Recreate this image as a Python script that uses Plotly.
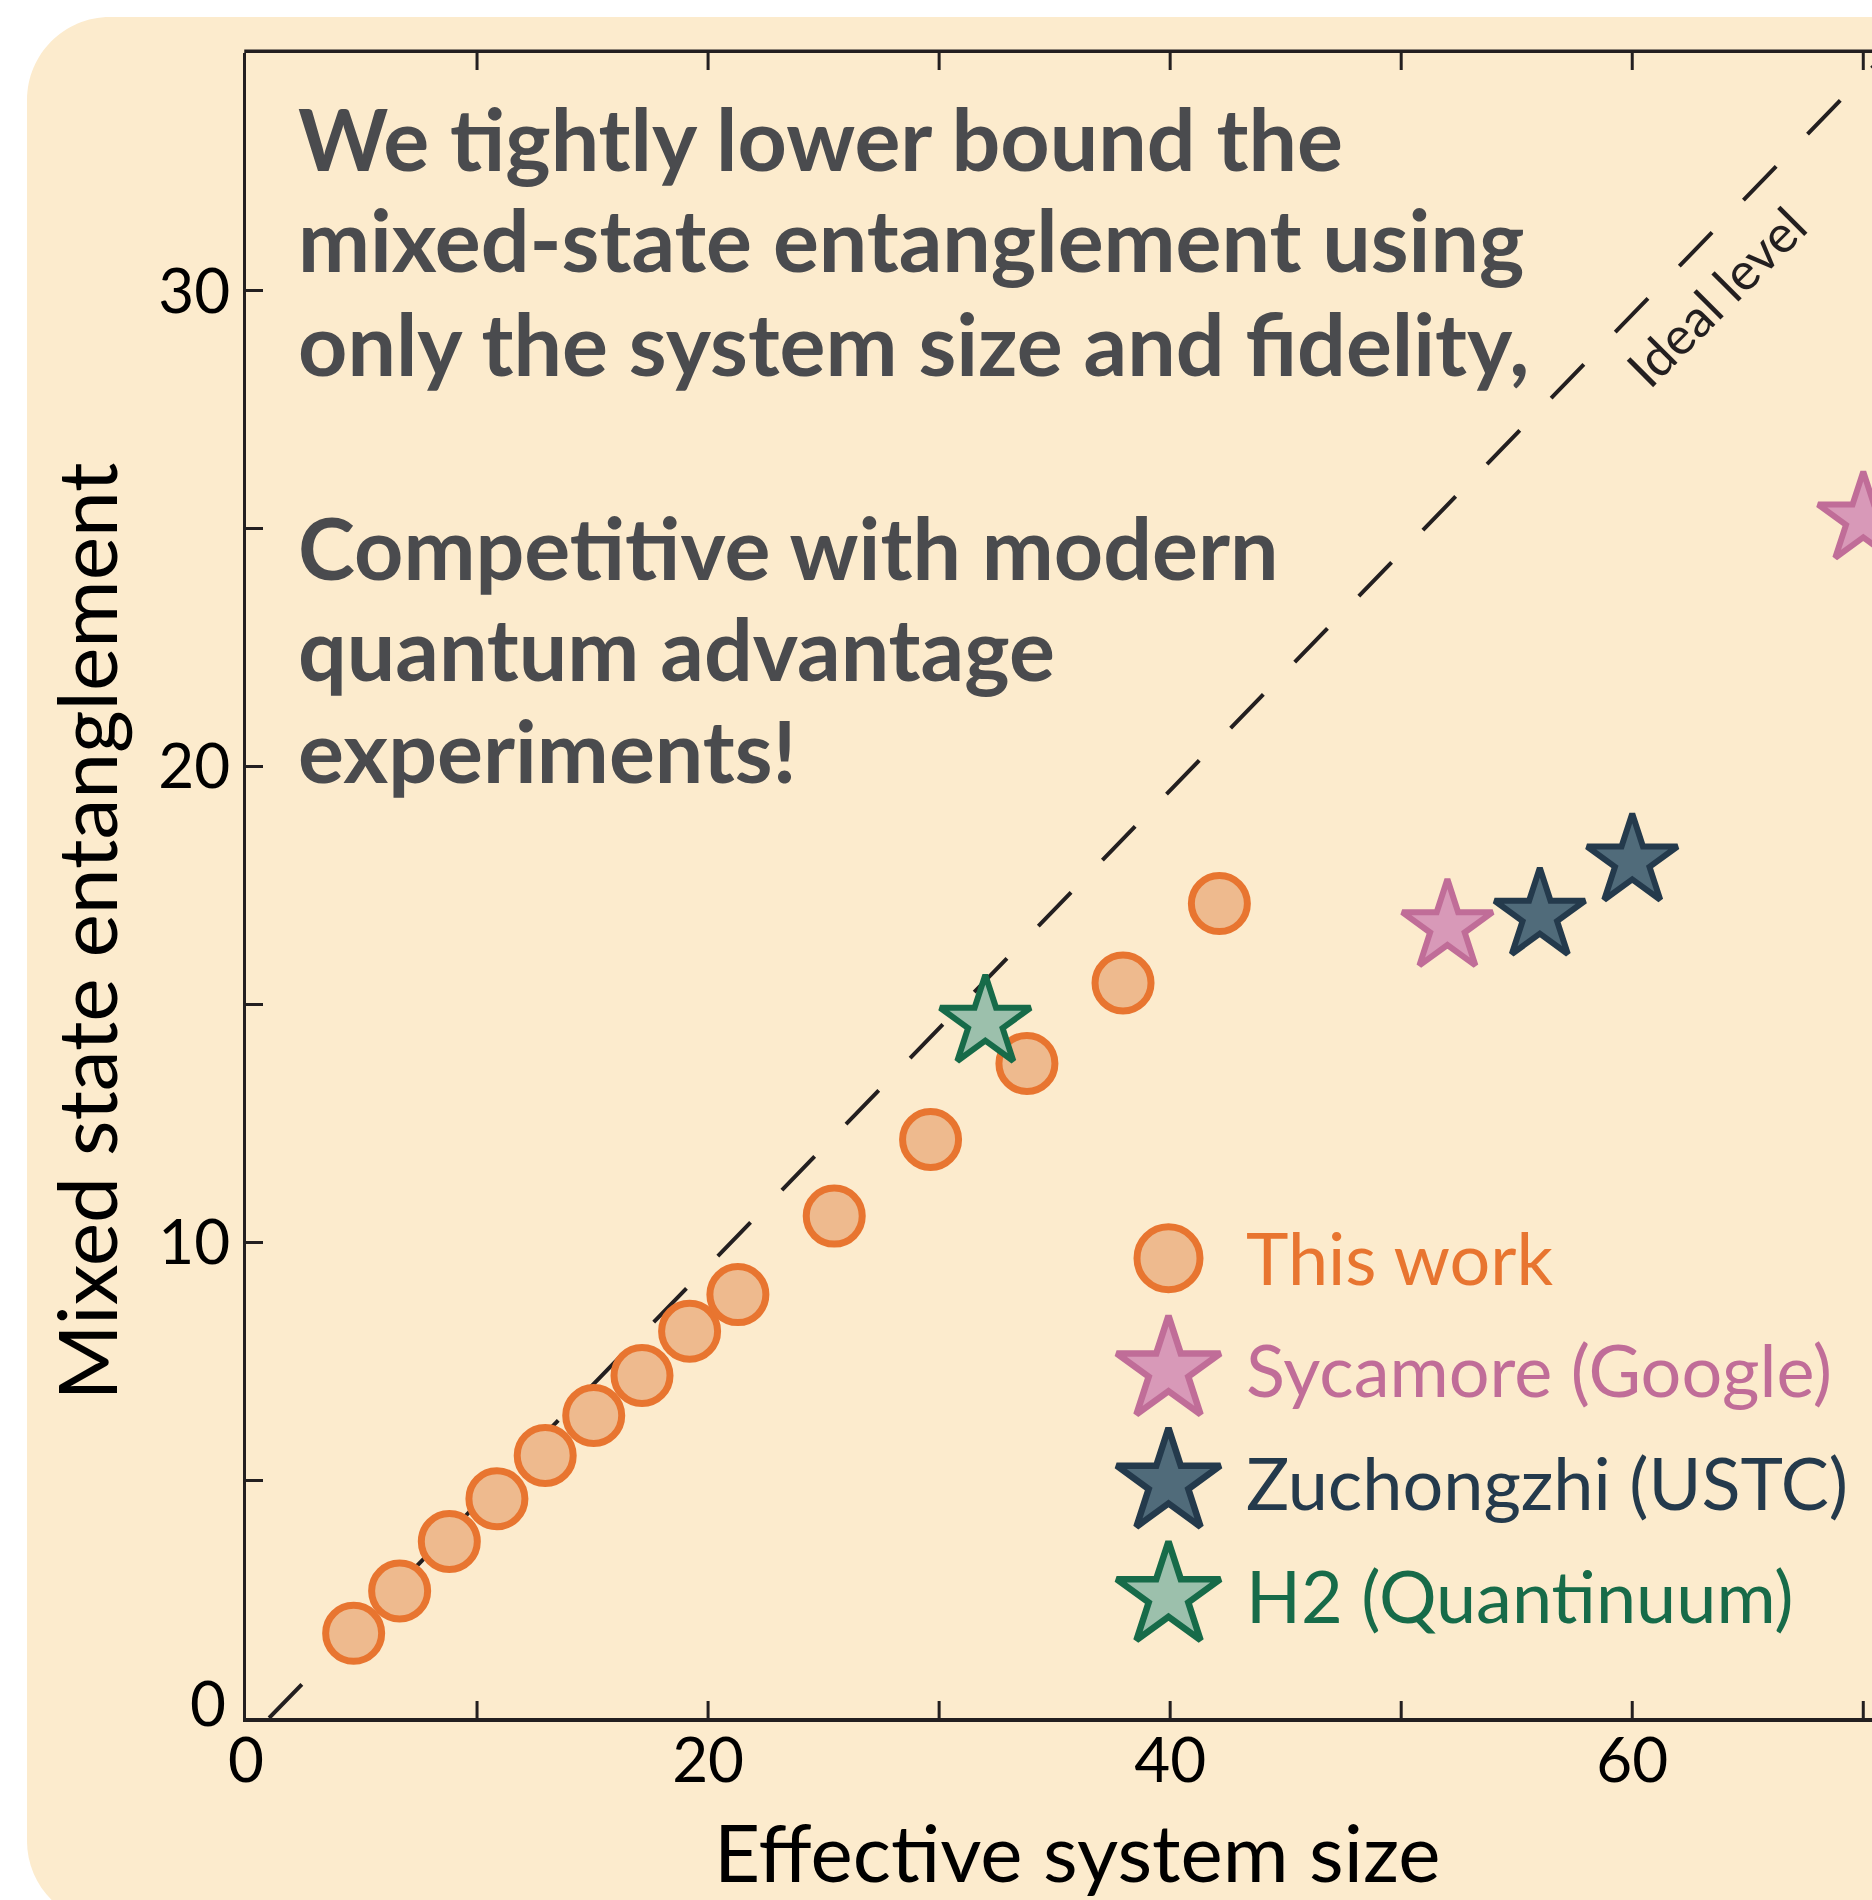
import plotly.graph_objects as go

# ---------------- data ----------------
this_work_x = [4.66, 6.65, 8.80, 10.86, 12.95, 15.05, 17.14, 19.20, 21.29, 25.46, 29.63, 33.80, 37.96, 42.13]
this_work_y = [1.78, 2.67, 3.71, 4.61, 5.52, 6.36, 7.20, 8.13, 8.90, 10.55, 12.16, 13.76, 15.45, 17.12]
sycamore_x = [52.0, 70.0]
sycamore_y = [16.63, 25.2]
zuchongzhi_x = [56.0, 60.0]
zuchongzhi_y = [16.87, 18.01]
h2_x = [32.0]
h2_y = [14.62]
ideal_x = [1.0, 72.0]
ideal_y = [0.0, 35.5]

x_tickvals = [0, 10, 20, 30, 40, 50, 60, 70]
x_ticktext = ["0", "", "20", "", "40", "", "60", ""]
y_tickvals = [0, 5, 10, 15, 20, 25, 30]
y_ticktext = ["", "", "10", "", "20", "", "30"]
y_zero_label = "0"

series_names = ["This work", "Sycamore (Google)", "Zuchongzhi (USTC)", "H2 (Quantinuum)"]

message_lines = [
    "We tightly lower bound the",
    "mixed-state entanglement using",
    "only the system size and fidelity,",
    "Competitive with modern",
    "quantum advantage",
    "experiments!",
]

# ---------------- layout geometry ----------------
W, H = 1900, 1900
L, R, T, B = 246, 0, 53, 182
PW, PH = W - L - R, H - T - B
PX_PER_X = 23.104
XMAX = PW / PX_PER_X
YMAX = 35.0

def px_x(p):
    return (p - L) / PW

def px_y(p):
    return (H - B - p) / PH

def dx(p):
    return (p - L) / PW * XMAX

def dy(p):
    return (H - B - p) / PH * YMAX

FONT = "Lato"
BG = "#FCEBCD"
AX = "#231F20"
TICKLEN = 17

styles = [
    dict(symbol="circle", fill="#EEBA8E", line="#E87530"),
    dict(symbol="star", fill="#D899B8", line="#C06D98"),
    dict(symbol="star", fill="#506B7A", line="#243A4C"),
    dict(symbol="star", fill="#9CC0AC", line="#176B49"),
]
text_colors = ["#E87530", "#C06D98", "#243A4C", "#176B49"]

fig = go.Figure()

# ideal level line
fig.add_trace(go.Scatter(x=ideal_x, y=ideal_y, mode="lines",
                         line=dict(color=AX, width=4, dash="47px,45px"),
                         showlegend=False, hoverinfo="skip"))

series = [(this_work_x, this_work_y), (sycamore_x, sycamore_y),
          (zuchongzhi_x, zuchongzhi_y), (h2_x, h2_y)]
for i, ((xs, ys), st) in enumerate(zip(series, styles)):
    if st["symbol"] == "circle":
        size, lw = 56, 7
    else:
        size, lw = 68, 6
    fig.add_trace(go.Scatter(x=xs, y=ys, mode="markers", name=series_names[i],
                             marker=dict(symbol=st["symbol"], size=size, color=st["fill"],
                                         line=dict(color=st["line"], width=lw)),
                             showlegend=False, hoverinfo="skip"))

# custom legend
leg_marker_px_x = 1168.5
leg_marker_px_y = [1258.3, 1370.3, 1482.6, 1596.0]
leg_text_px_x = 1244
for i, st in enumerate(styles):
    if st["symbol"] == "circle":
        size, lw = 63, 7
    else:
        size, lw = 78, 6.5
    fig.add_trace(go.Scatter(x=[dx(leg_marker_px_x)], y=[dy(leg_marker_px_y[i])], mode="markers",
                             marker=dict(symbol=st["symbol"], size=size, color=st["fill"],
                                         line=dict(color=st["line"], width=lw)),
                             showlegend=False, hoverinfo="skip", cliponaxis=False))
    fig.add_annotation(x=px_x(leg_text_px_x), y=px_y(leg_marker_px_y[i] - 1), xref="paper", yref="paper",
                       text=series_names[i], showarrow=False, xanchor="left", yanchor="middle",
                       font=dict(family=FONT, size=72, color=text_colors[i]))

# main message, one annotation per line, placed by baseline
msg_size = 86
baselines = [170, 271.7, 375, 579.3, 680, 782.7]
for line, base in zip(message_lines, baselines):
    fig.add_annotation(x=px_x(296), y=px_y(base - 0.36 * msg_size - 2), xref="paper", yref="paper",
                       text=line, showarrow=False, xanchor="left", yanchor="middle", align="left",
                       font=dict(family=FONT, size=msg_size, color="#4A4B4E", weight="bold"))

# ideal level label
fig.add_annotation(x=63.61, y=29.90, text="Ideal level", showarrow=False, textangle=-45,
                   xanchor="center", yanchor="middle",
                   font=dict(family=FONT, size=52, color=AX))

# y "0" label sits slightly above the axis line in the original
fig.add_annotation(x=px_x(208), y=px_y(1702), xref="paper", yref="paper",
                   text=y_zero_label, showarrow=False, xanchor="center", yanchor="middle",
                   font=dict(family=FONT, size=62, color="black"))

# axis titles
fig.add_annotation(x=px_x(1077), y=px_y(1882 - 0.36 * 80 - 2), xref="paper", yref="paper",
                   text="Effective system size", showarrow=False,
                   xanchor="center", yanchor="middle",
                   font=dict(family=FONT, size=80, color="black"))
fig.add_annotation(x=px_x(117 - 0.36 * 82 - 2), y=px_y(931), xref="paper", yref="paper",
                   text="Mixed state entanglement", showarrow=False, textangle=-90,
                   xanchor="center", yanchor="middle",
                   font=dict(family=FONT, size=82, color="black"))

# top frame line, and inward x ticks on top and bottom (drawn as shapes)
fig.add_shape(type="line", xref="paper", yref="paper", x0=px_x(L - 1.75), x1=1.0,
              y0=px_y(T - 1.75), y1=px_y(T - 1.75), line=dict(color=AX, width=3.5), layer="above")
for tv in x_tickvals[1:]:
    fig.add_shape(type="line", xref="x", yref="paper", x0=tv, x1=tv,
                  y0=1.0, y1=px_y(T + TICKLEN), line=dict(color=AX, width=3), layer="above")
    fig.add_shape(type="line", xref="x", yref="paper", x0=tv, x1=tv,
                  y0=0.0, y1=px_y(H - B - TICKLEN), line=dict(color=AX, width=3), layer="above")

# rounded background panel
k = 0.5523
r = 83
x0, y0, x1, y1 = 27, 17, 2200, 1924
def P(x, y):
    return f"{px_x(x):.5f},{px_y(y):.5f}"
path = (f"M {P(x0 + r, y0)} L {P(x1, y0)} L {P(x1, y1)} L {P(x0 + r, y1)} "
        f"C {P(x0 + r - k * r, y1)} {P(x0, y1 - r + k * r)} {P(x0, y1 - r)} "
        f"L {P(x0, y0 + r)} "
        f"C {P(x0, y0 + r - k * r)} {P(x0 + r - k * r, y0)} {P(x0 + r, y0)} Z")
fig.add_shape(type="path", path=path, xref="paper", yref="paper",
              fillcolor=BG, line=dict(width=0), layer="below")

fig.update_layout(
    width=W, height=H,
    margin=dict(l=L, r=R, t=T, b=B, pad=0),
    paper_bgcolor="white", plot_bgcolor="rgba(0,0,0,0)",
    showlegend=False, hovermode=False, dragmode=False,
    font=dict(family=FONT, color="black"),
    xaxis=dict(range=[0, XMAX], tickvals=x_tickvals, ticktext=x_ticktext,
               showgrid=False, zeroline=False, showline=True, linecolor=AX, linewidth=3.5,
               mirror=False, ticks="", showspikes=False,
               ticklabelstandoff=-14,
               tickfont=dict(family=FONT, size=62, color="black")),
    yaxis=dict(range=[0, YMAX], tickvals=y_tickvals, ticktext=y_ticktext,
               showgrid=False, zeroline=False, showline=True, linecolor=AX, linewidth=3.5,
               mirror=False, ticks="inside", ticklen=TICKLEN, tickwidth=3, tickcolor=AX,
               showspikes=False,
               tickfont=dict(family=FONT, size=62, color="black")),
)

fig.write_html("out.html", config={"displayModeBar": False, "staticPlot": True},
               post_script="document.documentElement.style.overflow='hidden';document.body.style.margin='0';document.body.style.overflow='hidden';")
